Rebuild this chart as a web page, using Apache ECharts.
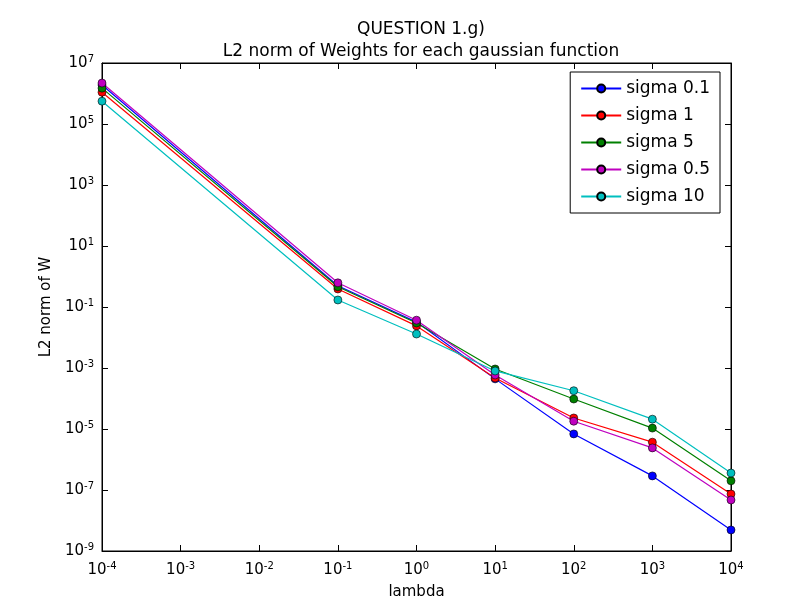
<!DOCTYPE html>
<html><head><meta charset="utf-8">
<script src="https://cdn.jsdelivr.net/npm/echarts@6/dist/echarts.min.js"></script>
<style>html,body{margin:0;background:#fff}#c{width:812px;height:612px}</style>
</head><body><div id="c"></div>
<script>
const lambdas = [1e-4, 0.1, 1, 10, 100, 1000, 10000];
const sigma01 = [1.9e6, 0.5, 0.032, 4.4e-4, 6.9e-6, 2.9e-7, 4.9e-9];
const sigma1  = [1.1e6, 0.39, 0.024, 4.7e-4, 2.3e-5, 3.7e-6, 7.4e-8];
const sigma5  = [1.5e6, 0.46, 0.030, 9.3e-4, 9.6e-5, 1.07e-5, 2.0e-7];
const sigma05 = [2.2e6, 0.62, 0.037, 5.9e-4, 1.8e-5, 2.4e-6, 4.7e-8];
const sigma10 = [5.6e5, 0.17, 0.013, 8.0e-4, 1.8e-4, 2.1e-5, 3.6e-7];
const names = ['sigma 0.1','sigma 1','sigma 5','sigma 0.5','sigma 10'];
const colors = ['#0000ff','#ff0000','#008000','#bf00bf','#00bfbf'];
const all = [sigma01, sigma1, sigma5, sigma05, sigma10];
const F = 'DejaVu Sans';
const fmt = v => '{b|10}{s|' + Math.round(Math.log10(v)) + '}';
const rich = {b:{fontSize:15,fontFamily:F,color:'#000'}, s:{fontSize:10,fontFamily:F,color:'#000',verticalAlign:'top',padding:[0,0,8,0]}};
const axCommon = {
  axisLine:{show:true,lineStyle:{color:'#000'}},
  axisTick:{show:true,inside:true,length:6,lineStyle:{color:'#000'}},
  splitLine:{show:false}, minorTick:{show:false}
};
const chart = echarts.init(document.getElementById('c'));
chart.setOption({
  animation:false,
  title:{text:'QUESTION 1.g)\nL2 norm of Weights for each gaussian function', left:416, top:14, textAlign:'center',
    textStyle:{fontFamily:F,fontSize:17,fontWeight:'normal',color:'#000',lineHeight:22}},
  grid:{left:102,right:81,top:63,bottom:61,show:true,borderColor:'#000',borderWidth:1},
  legend:{orient:'vertical', right:92, top:72, backgroundColor:'#fff', borderColor:'#000', borderWidth:1,
    padding:[8,10,8,10], itemGap:10, itemWidth:40, itemHeight:10,
    textStyle:{fontFamily:F,fontSize:17,color:'#000'}, data:names},
  xAxis:[Object.assign({type:'log',logBase:10,min:1e-4,max:1e4,interval:1,name:'lambda',nameLocation:'middle',nameGap:34,
    nameTextStyle:{fontFamily:F,fontSize:15,color:'#000'},
    axisLabel:{formatter:fmt,rich:rich,margin:10}},axCommon),
    Object.assign({type:'log',logBase:10,min:1e-4,max:1e4,interval:1,position:'top',axisLabel:{show:false}},axCommon)],
  yAxis:[Object.assign({type:'log',logBase:10,min:1e-9,max:1e7,interval:2,name:'L2 norm of W',nameLocation:'middle',nameGap:46,
    nameTextStyle:{fontFamily:F,fontSize:15,color:'#000'},
    axisLabel:{formatter:fmt,rich:rich,margin:8}},axCommon),
    Object.assign({type:'log',logBase:10,min:1e-9,max:1e7,interval:2,position:'right',axisLabel:{show:false}},axCommon)],
  series: all.map((d,i)=>({name:names[i], type:'line', data:lambdas.map((x,j)=>[x,d[j]]),
    color:colors[i], symbol:'circle', symbolSize:8, lineStyle:{width:1.2,color:colors[i]},
    itemStyle:{color:colors[i],borderColor:'#000',borderWidth:0.6}}))
});
</script></body></html>
